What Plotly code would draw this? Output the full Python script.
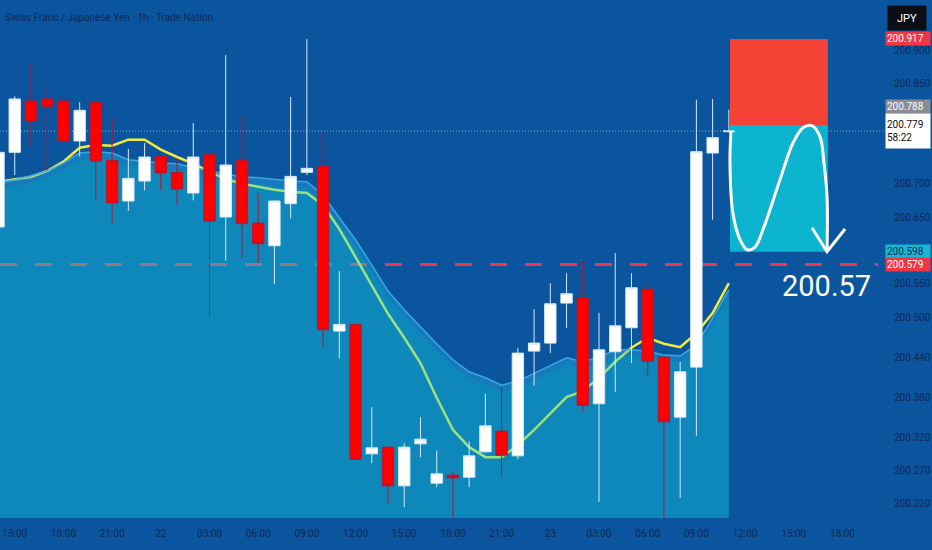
import plotly.graph_objects as go

# CHFJPY 1h candles, first one is 14:00 on the 21st
opens = [200.635, 200.747, 200.824, 200.827, 200.824, 200.764, 200.822, 200.735, 200.674, 200.704,
         200.741, 200.717, 200.686, 200.744, 200.650, 200.735, 200.641, 200.607, 200.670, 200.717,
         200.726, 200.479, 200.489, 200.295, 200.305, 200.247, 200.310, 200.251, 200.263, 200.260,
         200.298, 200.329, 200.292, 200.449, 200.461, 200.521, 200.529, 200.370, 200.448, 200.484,
         200.542, 200.440, 200.350, 200.425, 200.746, 200.778]
highs = [200.750, 200.831, 200.881, 200.845, 200.833, 200.822, 200.823, 200.798, 200.752, 200.761,
         200.742, 200.738, 200.791, 200.920, 200.893, 200.801, 200.686, 200.675, 200.830, 200.917,
         200.776, 200.569, 200.490, 200.365, 200.306, 200.311, 200.350, 200.300, 200.268, 200.314,
         200.385, 200.395, 200.454, 200.512, 200.551, 200.566, 200.583, 200.506, 200.596, 200.566,
         200.560, 200.441, 200.433, 200.826, 200.827, 200.811]
lows = [200.630, 200.713, 200.758, 200.720, 200.755, 200.741, 200.675, 200.641, 200.659, 200.690,
        200.690, 200.668, 200.675, 200.500, 200.585, 200.588, 200.581, 200.549, 200.648, 200.713,
        200.455, 200.438, 200.286, 200.281, 200.221, 200.215, 200.290, 200.245, 200.199, 200.245,
        200.297, 200.260, 200.287, 200.397, 200.446, 200.484, 200.358, 200.223, 200.388, 200.431,
        200.412, 200.195, 200.229, 200.322, 200.646, 200.777]
closes = [200.747, 200.827, 200.794, 200.816, 200.764, 200.810, 200.734, 200.671, 200.708, 200.740,
          200.716, 200.692, 200.740, 200.644, 200.728, 200.640, 200.610, 200.674, 200.711, 200.723,
          200.481, 200.489, 200.287, 200.304, 200.247, 200.305, 200.317, 200.265, 200.259, 200.292,
          200.337, 200.293, 200.446, 200.461, 200.520, 200.535, 200.368, 200.451, 200.487, 200.544,
          200.434, 200.343, 200.418, 200.748, 200.769, 200.779]

# yellow moving average
ema = [200.703, 200.706, 200.710, 200.719, 200.733, 200.754, 200.758, 200.757, 200.766, 200.766,
       200.751, 200.740, 200.730, 200.718, 200.707, 200.700, 200.695, 200.691, 200.688, 200.686,
       200.668, 200.632, 200.590, 200.548, 200.505, 200.469, 200.431, 200.379, 200.331, 200.305,
       200.290, 200.290, 200.308, 200.331, 200.355, 200.380, 200.389, 200.409, 200.433, 200.454,
       200.469, 200.460, 200.455, 200.476, 200.506, 200.551]

# shaded cloud (outer edge and inner edge)
band_hi = [200.703, 200.706, 200.712, 200.719, 200.731, 200.746, 200.748, 200.746, 200.736, 200.733,
           200.731, 200.730, 200.724, 200.719, 200.715, 200.710, 200.709, 200.706, 200.704, 200.703,
           200.683, 200.649, 200.616, 200.578, 200.539, 200.511, 200.485, 200.460, 200.436, 200.418,
           200.409, 200.398, 200.404, 200.416, 200.427, 200.439, 200.433, 200.440, 200.451, 200.451,
           200.449, 200.443, 200.442, 200.458, 200.499, 200.541]
band_lo = [200.694, 200.697, 200.703, 200.710, 200.722, 200.737, 200.739, 200.737, 200.727, 200.724,
           200.722, 200.721, 200.715, 200.710, 200.706, 200.701, 200.700, 200.697, 200.695, 200.694,
           200.674, 200.640, 200.607, 200.569, 200.530, 200.502, 200.476, 200.451, 200.427, 200.409,
           200.400, 200.389, 200.395, 200.407, 200.418, 200.430, 200.424, 200.431, 200.442, 200.442,
           200.440, 200.434, 200.433, 200.449, 200.490, 200.532]

# time axis (candle index) and price axis labels
x_tick_pos = [1, 4, 7, 10, 13, 16, 19, 22, 25, 28, 31, 34, 37, 40, 43, 46, 49, 52]
x_tick_text = ['15:00', '18:00', '21:00', '22', '03:00', '06:00', '09:00', '12:00', '15:00',
               '18:00', '21:00', '23', '03:00', '06:00', '09:00', '12:00', '15:00', '18:00']
y_ticks = [200.220, 200.270, 200.320, 200.380, 200.440, 200.500, 200.550, 200.650, 200.700,
           200.850, 200.900]

# short position drawing
stop = 200.917
entry = 200.788
target = 200.598
last_price = 200.779
dashed_level = 200.579
pos_start, pos_end = 45.07, 51.1
target_text = '200.57'
# hand drawn path (candle index, price)
path_x = [45.13, 45.07, 45.25, 45.69, 46.12, 46.61, 47.1, 48.15, 48.95, 49.57, 50.12, 50.62, 50.86, 51.05, 51.05]
path_y = [200.779, 200.731, 200.656, 200.616, 200.601, 200.605, 200.631, 200.706, 200.761, 200.784,
          200.787, 200.770, 200.731, 200.680, 200.598]
head_x = [50.12, 51.05, 52.16]
head_y = [200.634, 200.598, 200.632]

BG = '#0b549e'
AXIS_TXT = '#0d2a55'
FONT = 'Roboto, sans-serif'
X_RANGE = [0.092, 54.19]
Y_RANGE = [200.1988, 200.9754]

idx = list(range(len(opens)))

fig = go.Figure()

# moving average goes first so the cloud tints it green where they overlap
fig.add_trace(go.Scatter(
        x=idx, y=ema, mode='lines',
        line=dict(color='#f4ea3c', width=2.5),
        hoverinfo='skip'
        ))

fig.add_trace(go.Scatter(
        x=idx, y=band_lo, mode='lines', fill='tozeroy',
        fillcolor='rgba(20,215,230,0.40)',
        line=dict(width=0),
        hoverinfo='skip'
        ))

fig.add_trace(go.Scatter(
        x=idx, y=band_hi, mode='lines', fill='tonexty',
        fillcolor='rgba(40,180,235,0.40)',
        line=dict(color='rgba(60,175,230,0.9)', width=1.5),
        hoverinfo='skip'
        ))

# candles sit on an overlaid subplot so they are drawn above the cloud
fig.add_trace(go.Candlestick(
        x=idx, open=opens, high=highs, low=lows, close=closes,
        xaxis='x2', yaxis='y2',
        increasing=dict(fillcolor='#ffffff', line=dict(color='#d6e8f6', width=1)),
        decreasing=dict(fillcolor='#ff0000', line=dict(color='#b5162e', width=1)),
        whiskerwidth=0,
        hoverinfo='skip'
        ))

# freehand arrow
fig.add_trace(go.Scatter(
        x=path_x, y=path_y, mode='lines', xaxis='x2', yaxis='y2',
        line=dict(color='white', width=3, shape='spline', smoothing=1.0),
        hoverinfo='skip'
        ))
fig.add_trace(go.Scatter(
        x=head_x, y=head_y, mode='lines', xaxis='x2', yaxis='y2',
        line=dict(color='white', width=3),
        hoverinfo='skip'
        ))

# position boxes + price lines
fig.add_shape(type='rect', x0=pos_start, x1=pos_end, y0=entry, y1=stop,
              fillcolor='#f44336', line_width=0, layer='below')
fig.add_shape(type='rect', x0=pos_start, x1=pos_end, y0=target, y1=entry,
              fillcolor='#0db4cf', line_width=0, layer='below')
fig.add_shape(type='line', xref='paper', x0=0, x1=1, y0=dashed_level, y1=dashed_level,
              line=dict(color='#e8394a', width=3, dash='17px,18px'), layer='below')
fig.add_shape(type='line', xref='paper', x0=0, x1=1.01, y0=last_price, y1=last_price,
              line=dict(color='rgba(190,215,240,0.7)', width=1, dash='1px,2px'), layer='below')

fig.add_annotation(x=51, y=200.547, text=target_text, showarrow=False,
                   font=dict(family='Roboto, sans-serif', size=29, color='white'))

# price scale badges
def badge(price, text, bg, fg, h=None, shift=0):
    fig.add_annotation(xref='paper', x=1, xanchor='left', xshift=7, y=price, yref='y',
                       yanchor='middle', yshift=shift,
                       text=text, showarrow=False, bgcolor=bg, borderpad=1, align='left',
                       font=dict(family=FONT, size=10, color=fg), height=h, width=42)

badge(stop, '200.917', '#f23645', 'white')
# pushed up by the live price label, as the platform does
badge(entry, '200.788', '#8a8d96', 'white', shift=19)
badge(last_price - 0.0005, '200.779<br>58:22', 'white', '#0b0e14', h=32)
badge(target, '200.598', '#18b6d0', AXIS_TXT)
badge(dashed_level, '200.579', '#f23645', 'white')

fig.add_annotation(xref='paper', yref='paper', x=1, xanchor='left', xshift=9,
                   y=1, yanchor='top', yshift=-5,
                   text='JPY', showarrow=False, bgcolor='#0b0e14', width=36, height=22,
                   font=dict(family=FONT, size=11, color='white'))

fig.add_annotation(xref='paper', yref='paper', x=0, xanchor='left', xshift=3,
                   y=1, yanchor='middle', yshift=-17,
                   text='Swiss Franc / Japanese Yen · 1h · Trade Nation', showarrow=False,
                   font=dict(family=FONT, size=10, color=AXIS_TXT))

fig.update_layout(
        width=932,
        height=550,
        margin=dict(l=0, r=54, t=0, b=32),
        plot_bgcolor=BG,
        paper_bgcolor=BG,
        showlegend=False,
        boxgap=0,
        font=dict(family=FONT, size=10, color=AXIS_TXT),
        xaxis=dict(
                range=X_RANGE,
                tickmode='array',
                tickvals=x_tick_pos,
                ticktext=x_tick_text,
                showgrid=False,
                zeroline=False,
                ticks='',
                ticklabelstandoff=8
                ),
        xaxis2=dict(range=X_RANGE, overlaying='x', visible=False,
                    rangeslider=dict(visible=False)),
        yaxis=dict(
                range=Y_RANGE,
                side='right',
                tickmode='array',
                tickvals=y_ticks,
                ticktext=[f'{v:.3f}' for v in y_ticks],
                showgrid=False,
                zeroline=False,
                ticks='',
                ticklabelstandoff=15
                ),
        yaxis2=dict(range=Y_RANGE, overlaying='y', visible=False)
        )

fig.write_html('out.html', config=dict(displayModeBar=False),
               post_script="document.body.style.margin='0';")
